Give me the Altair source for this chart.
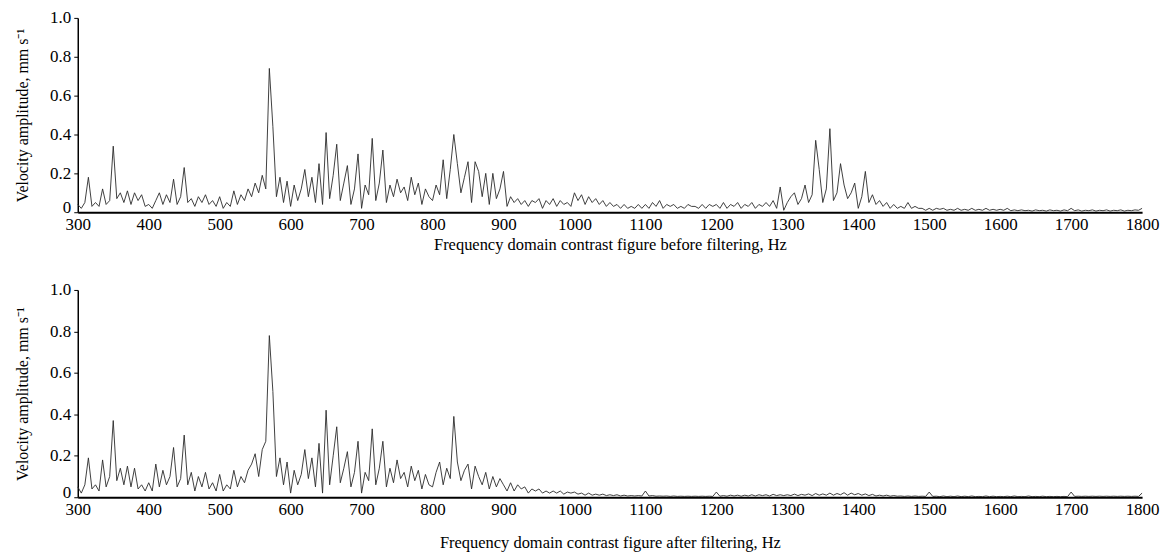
import altair as alt
import pandas as pd

FREQ_START = 300
FREQ_STEP = 5

# Velocity amplitude before filtering, 300..1800 Hz every 5 Hz
before = [
    0.04, 0.02, 0.05, 0.18, 0.03, 0.05, 0.03, 0.12, 0.04, 0.06, 0.34, 0.07, 0.10, 0.05, 0.11, 0.04, 0.10, 0.06, 0.09, 0.03,
    0.04, 0.02, 0.06, 0.10, 0.04, 0.09, 0.05, 0.17, 0.04, 0.08, 0.23, 0.05, 0.07, 0.03, 0.08, 0.05, 0.09, 0.04, 0.06, 0.03,
    0.08, 0.02, 0.05, 0.03, 0.11, 0.04, 0.09, 0.06, 0.12, 0.08, 0.15, 0.10, 0.19, 0.12, 0.74, 0.44, 0.08, 0.18, 0.05, 0.16,
    0.03, 0.14, 0.06, 0.12, 0.22, 0.08, 0.18, 0.05, 0.25, 0.04, 0.41, 0.07, 0.19, 0.35, 0.06, 0.15, 0.24, 0.04, 0.12, 0.30,
    0.02, 0.14, 0.09, 0.38, 0.06, 0.15, 0.32, 0.05, 0.14, 0.08, 0.17, 0.10, 0.13, 0.06, 0.18, 0.09, 0.15, 0.04, 0.12, 0.08,
    0.06, 0.14, 0.09, 0.27, 0.07, 0.22, 0.40, 0.25, 0.10, 0.18, 0.26, 0.05, 0.26, 0.21, 0.08, 0.20, 0.04, 0.20, 0.07, 0.12,
    0.21, 0.03, 0.08, 0.05, 0.07, 0.04, 0.06, 0.03, 0.06, 0.05, 0.07, 0.02, 0.06, 0.04, 0.07, 0.03, 0.06, 0.04, 0.05, 0.03,
    0.10, 0.06, 0.09, 0.04, 0.08, 0.05, 0.07, 0.04, 0.06, 0.03, 0.05, 0.03, 0.04, 0.02, 0.04, 0.02, 0.03, 0.02, 0.04, 0.02,
    0.04, 0.02, 0.05, 0.03, 0.06, 0.02, 0.04, 0.03, 0.04, 0.02, 0.03, 0.02, 0.04, 0.03, 0.03, 0.02, 0.04, 0.02, 0.04, 0.03,
    0.04, 0.02, 0.05, 0.02, 0.04, 0.03, 0.05, 0.02, 0.04, 0.03, 0.05, 0.02, 0.04, 0.03, 0.05, 0.03, 0.06, 0.02, 0.13, 0.01,
    0.05, 0.08, 0.10, 0.04, 0.07, 0.14, 0.05, 0.09, 0.37, 0.22, 0.05, 0.12, 0.43, 0.06, 0.10, 0.25, 0.14, 0.07, 0.10, 0.15,
    0.02, 0.08, 0.21, 0.05, 0.09, 0.04, 0.06, 0.03, 0.05, 0.02, 0.04, 0.02, 0.03, 0.02, 0.05, 0.02, 0.03, 0.02, 0.02, 0.01,
    0.02, 0.01, 0.02, 0.015, 0.02, 0.01, 0.015, 0.01, 0.02, 0.01, 0.015, 0.01, 0.02, 0.01, 0.015, 0.01, 0.02, 0.01, 0.015, 0.01,
    0.015, 0.01, 0.02, 0.008, 0.012, 0.008, 0.012, 0.008, 0.01, 0.006, 0.012, 0.008, 0.01, 0.006, 0.012, 0.008, 0.01, 0.006, 0.012, 0.008,
    0.02, 0.008, 0.012, 0.006, 0.01, 0.008, 0.012, 0.006, 0.01, 0.008, 0.012, 0.006, 0.01, 0.008, 0.012, 0.006, 0.01, 0.008, 0.012, 0.01,
    0.02,
]

# Velocity amplitude after filtering, 300..1800 Hz every 5 Hz
after = [
    0.05, 0.02, 0.06, 0.19, 0.04, 0.06, 0.03, 0.18, 0.05, 0.10, 0.37, 0.08, 0.14, 0.06, 0.15, 0.05, 0.14, 0.04, 0.06, 0.03,
    0.07, 0.03, 0.16, 0.05, 0.13, 0.06, 0.10, 0.24, 0.05, 0.09, 0.30, 0.06, 0.12, 0.03, 0.10, 0.05, 0.12, 0.04, 0.07, 0.03,
    0.11, 0.03, 0.06, 0.04, 0.13, 0.05, 0.10, 0.07, 0.13, 0.16, 0.21, 0.10, 0.23, 0.27, 0.78, 0.51, 0.10, 0.19, 0.06, 0.17,
    0.02, 0.13, 0.06, 0.11, 0.23, 0.09, 0.19, 0.05, 0.26, 0.02, 0.42, 0.06, 0.20, 0.34, 0.07, 0.14, 0.22, 0.05, 0.12, 0.27,
    0.02, 0.12, 0.08, 0.33, 0.06, 0.14, 0.27, 0.05, 0.14, 0.07, 0.18, 0.09, 0.12, 0.05, 0.15, 0.08, 0.13, 0.04, 0.11, 0.06,
    0.05, 0.12, 0.17, 0.06, 0.14, 0.09, 0.39, 0.17, 0.08, 0.13, 0.16, 0.04, 0.15, 0.10, 0.06, 0.12, 0.04, 0.10, 0.05, 0.09,
    0.06, 0.03, 0.07, 0.03, 0.06, 0.04, 0.05, 0.02, 0.04, 0.03, 0.04, 0.02, 0.03, 0.02, 0.03, 0.02, 0.03, 0.015, 0.025, 0.02,
    0.025, 0.015, 0.02, 0.01, 0.02, 0.01, 0.015, 0.01, 0.015, 0.008, 0.012, 0.008, 0.012, 0.006, 0.01, 0.006, 0.008, 0.006, 0.008, 0.006,
    0.03, 0.006, 0.008, 0.005, 0.006, 0.005, 0.006, 0.004, 0.006, 0.004, 0.005, 0.004, 0.005, 0.004, 0.005, 0.004, 0.005, 0.004, 0.005, 0.004,
    0.025, 0.005, 0.008, 0.005, 0.01, 0.006, 0.01, 0.005, 0.01, 0.006, 0.012, 0.006, 0.012, 0.008, 0.012, 0.006, 0.014, 0.008, 0.012, 0.008,
    0.012, 0.008, 0.015, 0.008, 0.014, 0.01, 0.016, 0.008, 0.018, 0.01, 0.016, 0.01, 0.02, 0.01, 0.018, 0.012, 0.022, 0.01, 0.02, 0.012,
    0.018, 0.01, 0.016, 0.008, 0.014, 0.006, 0.01, 0.006, 0.01, 0.005, 0.008, 0.005, 0.006, 0.004, 0.006, 0.004, 0.006, 0.004, 0.005, 0.004,
    0.025, 0.004, 0.005, 0.003, 0.006, 0.003, 0.005, 0.003, 0.006, 0.003, 0.005, 0.003, 0.006, 0.003, 0.004, 0.003, 0.006, 0.003, 0.005, 0.003,
    0.004, 0.003, 0.005, 0.003, 0.006, 0.003, 0.004, 0.003, 0.006, 0.003, 0.004, 0.003, 0.005, 0.003, 0.004, 0.003, 0.004, 0.003, 0.004, 0.003,
    0.025, 0.004, 0.005, 0.004, 0.005, 0.004, 0.005, 0.004, 0.005, 0.004, 0.005, 0.004, 0.005, 0.004, 0.005, 0.004, 0.005, 0.004, 0.005, 0.004,
    0.02,
]

x_ticks = [300, 400, 500, 600, 700, 800, 900, 1000, 1100, 1200, 1300, 1400, 1500, 1600, 1700, 1800]
y_ticks = [0, 0.2, 0.4, 0.6, 0.8, 1.0]

title_before = "Frequency domain contrast figure before filtering, Hz"
title_after = "Frequency domain contrast figure after filtering, Hz"
y_title = "Velocity amplitude, mm s\u207b\u00b9"

FONT = "Liberation Serif"


def frame(values):
    return pd.DataFrame({
        "freq": [FREQ_START + FREQ_STEP * i for i in range(len(values))],
        "amp": values,
    })


def panel(values, xtitle, height, xtitle_pad):
    return alt.Chart(frame(values)).mark_line(
        color="#2a2a2a", strokeWidth=0.9, interpolate="linear"
    ).encode(
        x=alt.X("freq:Q",
                scale=alt.Scale(domain=[300, 1800], nice=False, zero=False),
                axis=alt.Axis(values=x_ticks, title=xtitle, ticks=False, format="d",
                              labelPadding=4, domainWidth=2, domainColor="black",
                              grid=False, labelFlush=False, titlePadding=xtitle_pad)),
        y=alt.Y("amp:Q",
                scale=alt.Scale(domain=[0, 1], nice=False),
                axis=alt.Axis(values=y_ticks, title=y_title, tickSize=4,
                              labelExpr="datum.value == 0 ? '0' : format(datum.value, '.1f')",
                              labelBaseline={"condition": {"test": "datum.value == 0", "value": "alphabetic"},
                                             "value": "middle"},
                              domainWidth=1.5, domainColor="black", tickColor="black",
                              grid=False, labelPadding=3, titlePadding=19)),
    ).properties(width=1068, height=height)


chart = alt.vconcat(
    panel(before, title_before, 195, 4),
    panel(after, title_after, 208, 17),
    spacing=28,
).properties(
    padding={"left": 6, "top": 0, "right": 5, "bottom": 0}
).configure_view(
    stroke=None
).configure_axis(
    labelFont=FONT, titleFont=FONT, labelFontSize=17, titleFontSize=16.5,
    labelColor="black", titleColor="black", titleFontWeight="normal"
).configure_axisY(
    titleFontSize=16
)

chart.save("out.html", embed_options={"renderer": "svg", "actions": False})
